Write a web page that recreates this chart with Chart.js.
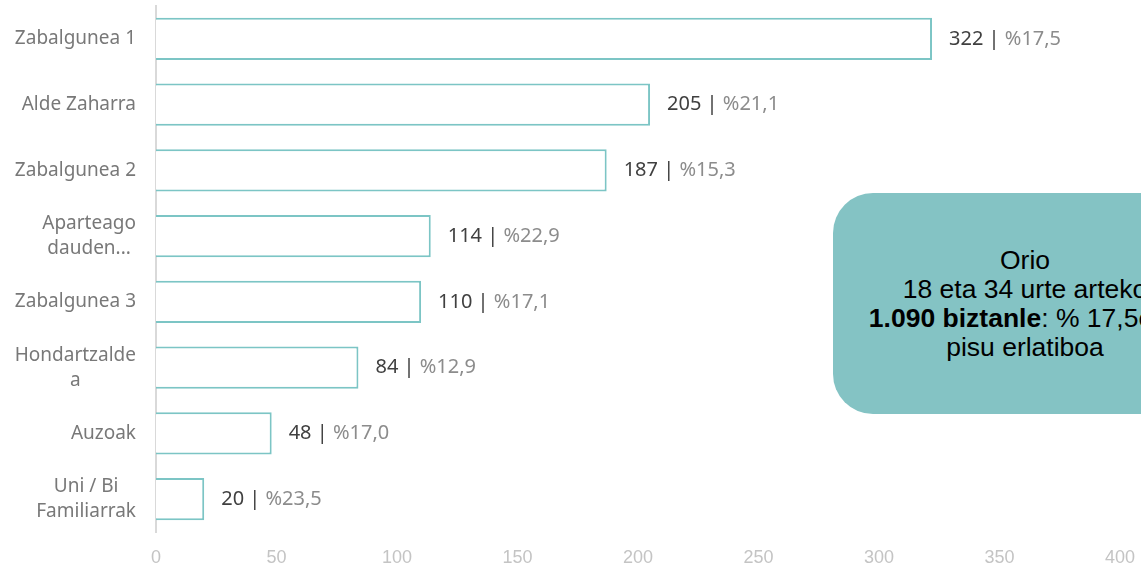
<!DOCTYPE html>
<html>
<head>
<meta charset="utf-8">
<script src="https://cdn.jsdelivr.net/npm/chart.js@4.4.1/dist/chart.umd.min.js"></script>
<style>
    html, body { margin: 0; padding: 0; background: #ffffff; overflow: hidden; }
    #wrap { position: relative; width: 1141px; height: 568px; }
    #note {
        position: absolute; left: 833px; top: 193px; width: 384px; height: 221px;
        background: #84c3c4; border-radius: 40px;
        display: flex; flex-direction: column; justify-content: center; align-items: center;
        font-family: "Liberation Sans", Arial, sans-serif; font-size: 26.5px; line-height: 29px;
        color: #000; text-align: center; white-space: nowrap;
    }
</style>
</head>
<body>
<div id="wrap">
    <canvas id="chart" width="1141" height="568"></canvas>
    <div id="note">
        <div>Orio</div>
        <div>18 eta 34 urte arteko</div>
        <div><b>1.090 biztanle</b>: % 17,5eko</div>
        <div>pisu erlatiboa</div>
    </div>
</div>
<script>
// Chart data
const categories = [
    ['Zabalgunea 1'],
    ['Alde Zaharra'],
    ['Zabalgunea 2'],
    ['Aparteago', 'dauden...'],
    ['Zabalgunea 3'],
    ['Hondartzalde', 'a'],
    ['Auzoak'],
    ['Uni / Bi', 'Familiarrak']
];
const residents = [322, 205, 187, 114, 110, 84, 48, 20];
const shares = ['17,5', '21,1', '15,3', '22,9', '17,1', '12,9', '17,0', '23,5'];
const xTicks = [0, 50, 100, 150, 200, 250, 300, 350, 400];

const labelFont = '19px "Noto Sans", sans-serif';
const valueFont = '20px "Noto Sans", sans-serif';

/**
 * Category labels on the left, drawn at the bar centres
 */
const categoryLabels = {
    id: 'categoryLabels',
    afterDraw(chart) {
        const ctx = chart.ctx;
        const yScale = chart.scales.y;
        const rightEdge = 136;
        const lineHeight = 25;
        ctx.save();
        ctx.font = labelFont;
        ctx.fillStyle = '#787878';
        ctx.textAlign = 'center';
        ctx.textBaseline = 'middle';
        categories.forEach((lines, i) => {
            const y = yScale.getPixelForValue(i);
            const widest = Math.max(...lines.map(l => ctx.measureText(l).width));
            const cx = rightEdge - widest / 2;
            const top = y - (lines.length - 1) * lineHeight / 2;
            lines.forEach((line, j) => ctx.fillText(line, cx, top + j * lineHeight));
        });
        ctx.restore();
    }
};

/**
 * "value | %share" labels at the end of each bar
 */
const valueLabels = {
    id: 'valueLabels',
    afterDatasetsDraw(chart) {
        const ctx = chart.ctx;
        const meta = chart.getDatasetMeta(0);
        ctx.save();
        ctx.font = valueFont;
        ctx.textAlign = 'left';
        ctx.textBaseline = 'middle';
        meta.data.forEach((bar, i) => {
            let x = bar.x + 17;
            const first = residents[i] + ' | ';
            ctx.fillStyle = '#404040';
            ctx.fillText(first, x, bar.y);
            x += ctx.measureText(first).width;
            ctx.fillStyle = '#8c8c8c';
            ctx.fillText('%' + shares[i], x, bar.y);
        });
        ctx.restore();
    }
};

new Chart(document.getElementById('chart'), {
    type: 'bar',
    data: {
        labels: categories.map(c => c.join(' ')),
        datasets: [{
            data: residents,
            backgroundColor: '#ffffff',
            borderColor: '#7cc5c5',
            borderWidth: 2,
            barPercentage: 0.64,
            categoryPercentage: 1
        }]
    },
    options: {
        indexAxis: 'y',
        responsive: false,
        animation: false,
        layout: { padding: { left: 6, top: 6, right: 21, bottom: 2 } },
        plugins: {
            legend: { display: false },
            tooltip: { enabled: false }
        },
        scales: {
            x: {
                min: 0,
                max: 400,
                afterBuildTicks: s => { s.ticks = xTicks.map(v => ({ value: v })); },
                afterFit: s => { s.height = 34; s.paddingLeft = 0; s.paddingRight = 0; },
                grid: { display: false, drawTicks: false, tickLength: 0 },
                border: { display: false },
                ticks: {
                    color: '#c4c4c4',
                    padding: 15,
                    font: { family: '"Liberation Sans Narrow", "Liberation Sans", Arial, sans-serif', size: 18 }
                }
            },
            y: {
                grid: { display: false, drawTicks: false },
                border: { display: true, color: '#d9d9d9', width: 2 },
                ticks: { display: false },
                afterFit: s => { s.width = 150; }
            }
        }
    },
    plugins: [categoryLabels, valueLabels]
});
</script>
</body>
</html>
